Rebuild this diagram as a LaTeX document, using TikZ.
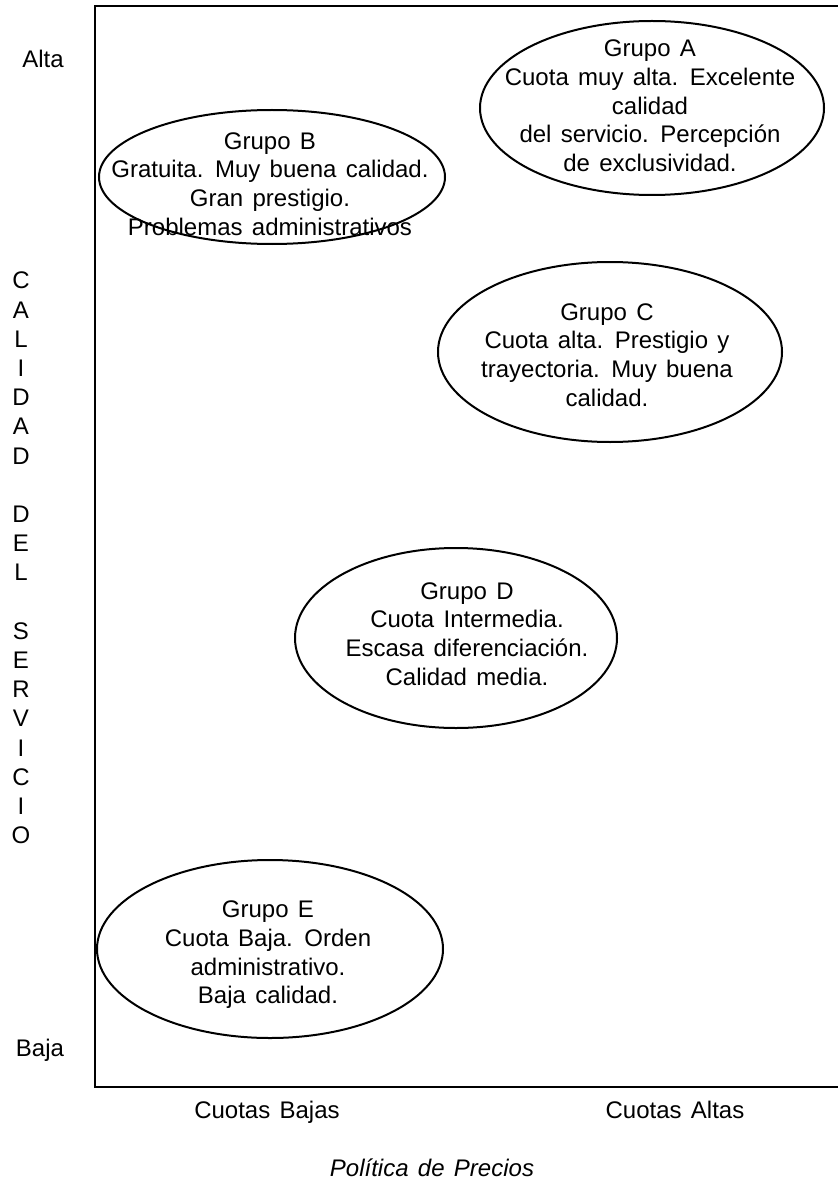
\documentclass[tikz,border=0pt]{standalone}
\usepackage{fontspec}
\setmainfont[WordSpace=1.4]{Liberation Sans}
\usetikzlibrary{positioning}

\begin{document}
\begin{tikzpicture}[
  x=0.5pt, y=-0.5pt,
  grupo/.style={align=center, inner sep=0pt,
                font=\fontsize{12}{14.35}\selectfont},
  borde/.style={line width=1pt},
  marco/.style={line width=1.2pt},
  eje/.style={inner sep=0pt, align=center,
              font=\fontsize{12}{14.6}\selectfont},
]
\useasboundingbox (0,0) rectangle (838,1182);

% Frame of the map
\draw[marco] (838,6) -- (95,6) -- (95,1087) -- (838,1087);

% Groups
\node[grupo] (gA) at (650,106) {Grupo A\\Cuota muy alta. Excelente\\calidad\\del servicio. Percepción\\de exclusividad.};
\draw[borde] (652,108) ellipse [x radius=86pt, y radius=43.5pt];

\node[grupo] (gB) at (270,184) {Grupo B\\Gratuita. Muy buena calidad.\\Gran prestigio.\\Problemas administrativos};
\draw[borde] (272,177) ellipse [x radius=86.5pt, y radius=33.5pt];

\node[grupo] (gC) at (607,355) {Grupo C\\Cuota alta. Prestigio y\\trayectoria. Muy buena\\calidad.};
\draw[borde] (610,352) ellipse [x radius=86pt, y radius=45pt];

\node[grupo] (gD) at (467,634) {Grupo D\\Cuota Intermedia.\\Escasa diferenciación.\\Calidad media.};
\draw[borde] (456,638) ellipse [x radius=80.5pt, y radius=45pt];

\node[grupo] (gE) at (268,955) {Grupo E\\Cuota Baja. Orden\\administrativo.\\Baja calidad.};
\draw[borde] (270,949) ellipse [x radius=86.5pt, y radius=44.5pt];

% Vertical axis
\node[eje, anchor=base] (alta) at (43,68) {Alta};
\node[eje, anchor=base] (baja) at (40,1056) {Baja};
\node[eje] (calidad) at (21,558) {C\\A\\L\\I\\D\\A\\D\\ \\D\\E\\L\\ \\S\\E\\R\\V\\I\\C\\I\\O};

% Horizontal axis
\node[eje, anchor=base] (bajas) at (267,1118) {Cuotas Bajas};
\node[eje, anchor=base] (altas) at (675,1118) {Cuotas Altas};
\node[eje, anchor=base, font=\fontsize{12}{14.6}\selectfont\itshape] (precios) at (432,1176) {Política de Precios};
\end{tikzpicture}
\end{document}
